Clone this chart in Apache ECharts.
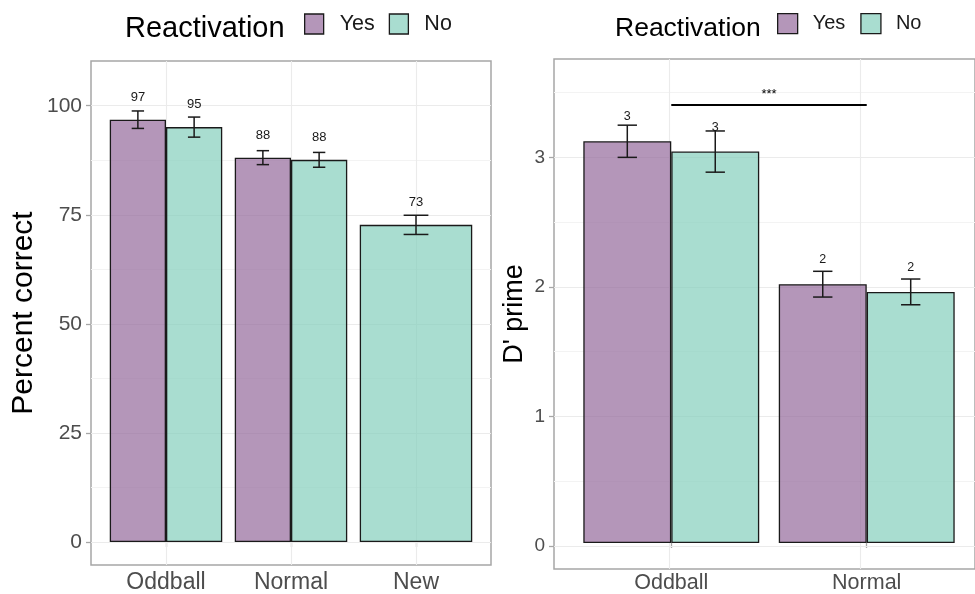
<!DOCTYPE html>
<html>
<head>
<meta charset="utf-8">
<script src="https://cdn.jsdelivr.net/npm/echarts@6/dist/echarts.min.js"></script>
<style>
html,body{margin:0;padding:0;background:#fff;}
#chart{width:975px;height:594px;}
</style>
</head>
<body>
<div id="chart"></div>
<script>
// ---- data ----
const legendTitle = 'Reactivation';
const seriesNames = ['Yes', 'No'];

const categoriesLeft = ['Oddball', 'Normal', 'New'];
const pctYes   = [96.8, 88.1, null];
const pctYesSE = [2.0, 1.6, null];
const pctNo    = [95.1, 87.6, 72.7];
const pctNoSE  = [2.3, 1.7, 2.2];
const leftTicks = [0, 25, 50, 75, 100];
const leftMinor = [12.5, 37.5, 62.5, 87.5];
const leftYName = 'Percent correct';

const categoriesRight = ['Oddball', 'Normal'];
const dYes   = [3.12, 2.01];
const dYesSE = [0.125, 0.10];
const dNo    = [3.04, 1.95];
const dNoSE  = [0.16, 0.10];
const rightTicks = [0, 1, 2, 3];
const rightMinor = [0.5, 1.5, 2.5, 3.5];
const rightYName = "D' prime";
const sigLabel = '***';
const sigFrom = 'Oddball', sigTo = 'Normal', sigY = 3.40;

// ---- styling / layout ----
const FONT = 'Liberation Sans, Arial, sans-serif';
const colYes = 'rgba(148,106,155,0.7)';
const colNo = 'rgba(132,206,188,0.7)';
const barBorder = {borderColor: '#1a1a1a', borderWidth: 1.3};
const gridMajor = '#ebebeb', gridMinor = '#f3f3f3';
const EXP = 0.6; // ggplot discrete expansion (in category units)

const frameL = {left: 91, top: 61, width: 400, height: 504};
const frameR = {left: 554, top: 59, width: 430, height: 510};
function dataGrid(fr, n){
  const unit = fr.width / (n - 1 + 2 * EXP);
  return {left: fr.left + (EXP - 0.5) * unit, top: fr.top, width: n * unit, height: fr.height, show: false};
}

function dash(v){ return (v === null || v === undefined) ? '-' : v; }

function gridLines(majors, minors, n){
  const d = [];
  majors.forEach(v => d.push({yAxis: v, lineStyle: {color: gridMajor, width: 1.1, type: 'solid'}}));
  minors.forEach(v => d.push({yAxis: v, lineStyle: {color: gridMinor, width: 1, type: 'solid'}}));
  for (let i = 1; i <= n; i++) d.push({xAxis: i, lineStyle: {color: gridMajor, width: 1.1, type: 'solid'}});
  return {silent: true, symbol: 'none', z: 1, label: {show: false}, data: d, animation: false};
}

function errRender(params, api){
  const idx = api.value(0), m = api.value(1), se = api.value(2);
  const off = api.value(3), capFrac = api.value(4);
  const band = api.size([1, 0])[0];
  const c = api.coord([idx, m]);
  const x = c[0] + off * band;
  const yt = api.coord([idx, m + se])[1];
  const yb = api.coord([idx, m - se])[1];
  const h = capFrac * band;
  const st = {stroke: '#1a1a1a', lineWidth: 1.5};
  return {type: 'group', children: [
    {type: 'line', shape: {x1: x, y1: yt, x2: x, y2: yb}, style: st},
    {type: 'line', shape: {x1: x - h, y1: yt, x2: x + h, y2: yt}, style: st},
    {type: 'line', shape: {x1: x - h, y1: yb, x2: x + h, y2: yb}, style: st}
  ]};
}

const errLeft = [];
categoriesLeft.forEach((c, i) => {
  const hasYes = pctYes[i] !== null;
  if (hasYes) errLeft.push([i, pctYes[i], pctYesSE[i], -0.225, 0.45 * 0.11]);
  if (pctNo[i] !== null) errLeft.push([i, pctNo[i], pctNoSE[i], hasYes ? 0.225 : 0, (hasYes ? 0.45 : 0.9) * 0.11]);
});
const errRight = [];
categoriesRight.forEach((c, i) => {
  errRight.push([i, dYes[i], dYesSE[i], -0.225, 0.45 * 0.11]);
  errRight.push([i, dNo[i], dNoSE[i], 0.225, 0.45 * 0.11]);
});

const labelL = {show: true, position: 'top', distance: 16, fontSize: 13, color: '#1a1a1a', fontFamily: FONT,
  formatter: p => Math.round(p.value)};
const labelR = {show: true, position: 'top', distance: 18, fontSize: 12.5, color: '#1a1a1a', fontFamily: FONT,
  formatter: p => Math.round(p.value)};

const tickStyle = {color: '#a6a6a6', width: 1.3};
const frameStyle = {show: true, borderColor: '#a6a6a6', borderWidth: 1.5, backgroundColor: 'transparent'};

const chart = echarts.init(document.getElementById('chart'), null, {renderer: 'canvas'});
chart.setOption({
  animation: false,
  backgroundColor: '#fff',
  title: [
    {text: legendTitle, left: 125, top: 14, padding: 0, textStyle: {fontSize: 29, fontWeight: 'normal', color: '#000', fontFamily: FONT}},
    {text: legendTitle, left: 615, top: 15, padding: 0, textStyle: {fontSize: 26.5, fontWeight: 'normal', color: '#000', fontFamily: FONT}}
  ],
  legend: [
    {data: seriesNames, left: 304, top: 13, padding: 0, itemWidth: 19, itemHeight: 20, itemGap: 14, icon: 'rect',
     selectedMode: false,
     itemStyle: {borderColor: '#1a1a1a', borderWidth: 1.3},
     textStyle: {fontSize: 21.5, color: '#1a1a1a', fontFamily: FONT, padding: [0, 0, 0, 11]}},
    {data: seriesNames, left: 777, top: 13, padding: 0, itemWidth: 20, itemHeight: 20, itemGap: 15, icon: 'rect',
     selectedMode: false,
     itemStyle: {borderColor: '#1a1a1a', borderWidth: 1.3},
     textStyle: {fontSize: 20, color: '#1a1a1a', fontFamily: FONT, padding: [0, 0, 0, 10]}}
  ],
  grid: [
    Object.assign({}, frameL, frameStyle),
    dataGrid(frameL, categoriesLeft.length),
    Object.assign({}, frameR, frameStyle),
    dataGrid(frameR, categoriesRight.length)
  ],
  xAxis: [
    {type: 'category', gridIndex: 1, data: categoriesLeft,
     axisLine: {show: false}, axisTick: {show: true, alignWithLabel: true, length: 5, lineStyle: tickStyle},
     axisLabel: {fontSize: 23, color: '#4d4d4d', margin: 6, fontFamily: FONT}, splitLine: {show: false}},
    {type: 'category', gridIndex: 1, data: categoriesLeft, show: false},
    {type: 'value', gridIndex: 0, min: 1 - EXP, max: categoriesLeft.length + EXP, show: false, splitLine: {show: false}},
    {type: 'category', gridIndex: 3, data: categoriesRight,
     axisLine: {show: false}, axisTick: {show: true, alignWithLabel: true, length: 5, lineStyle: tickStyle},
     axisLabel: {fontSize: 21.5, color: '#4d4d4d', margin: 6, fontFamily: FONT}, splitLine: {show: false}},
    {type: 'value', gridIndex: 2, min: 1 - EXP, max: categoriesRight.length + EXP, show: false, splitLine: {show: false}}
  ],
  yAxis: [
    {type: 'value', gridIndex: 0, min: -5.25, max: 110.25,
     axisLine: {show: false},
     axisTick: {show: true, length: 5, customValues: leftTicks, lineStyle: tickStyle},
     axisLabel: {fontSize: 21, color: '#4d4d4d', margin: 9, fontFamily: FONT, customValues: leftTicks},
     splitLine: {show: false},
     name: leftYName, nameLocation: 'middle', nameGap: 52,
     nameTextStyle: {fontSize: 30, color: '#000', fontFamily: FONT}},
    {type: 'value', gridIndex: 1, min: -5.25, max: 110.25, show: false, splitLine: {show: false}},
    {type: 'value', gridIndex: 2, min: -0.179, max: 3.759,
     axisLine: {show: false},
     axisTick: {show: true, length: 5, customValues: rightTicks, lineStyle: tickStyle},
     axisLabel: {fontSize: 19, color: '#4d4d4d', margin: 9, fontFamily: FONT, customValues: rightTicks},
     splitLine: {show: false},
     name: rightYName, nameLocation: 'middle', nameGap: 26,
     nameTextStyle: {fontSize: 27, color: '#000', fontFamily: FONT}},
    {type: 'value', gridIndex: 3, min: -0.179, max: 3.759, show: false, splitLine: {show: false}}
  ],
  series: [
    {type: 'line', xAxisIndex: 2, yAxisIndex: 0, data: [], silent: true,
     markLine: gridLines(leftTicks, leftMinor, categoriesLeft.length)},
    {type: 'line', xAxisIndex: 4, yAxisIndex: 2, data: [], silent: true,
     markLine: gridLines(rightTicks, rightMinor, categoriesRight.length)},

    {name: 'Yes', type: 'bar', xAxisIndex: 0, yAxisIndex: 1, z: 2,
     data: pctYes.map(dash), barGap: '0%', barCategoryGap: '10%',
     itemStyle: Object.assign({color: colYes}, barBorder), label: labelL},
    {name: 'No', type: 'bar', xAxisIndex: 0, yAxisIndex: 1, z: 2,
     data: pctNo.map((v, i) => pctYes[i] !== null ? dash(v) : '-'), barGap: '0%', barCategoryGap: '10%',
     itemStyle: Object.assign({color: colNo}, barBorder), label: labelL},
    {name: 'No', type: 'bar', xAxisIndex: 1, yAxisIndex: 1, z: 2,
     data: pctNo.map((v, i) => pctYes[i] === null ? dash(v) : '-'), barWidth: '90%',
     itemStyle: Object.assign({color: colNo}, barBorder), label: labelL},
    {type: 'custom', xAxisIndex: 0, yAxisIndex: 1, z: 3, renderItem: errRender, data: errLeft,
     encode: {x: 0, y: 1}, silent: true},

    {name: 'Yes', type: 'bar', xAxisIndex: 3, yAxisIndex: 3, z: 2,
     data: dYes, barGap: '0%', barCategoryGap: '10%',
     itemStyle: Object.assign({color: colYes}, barBorder), label: labelR},
    {name: 'No', type: 'bar', xAxisIndex: 3, yAxisIndex: 3, z: 2,
     data: dNo, barGap: '0%', barCategoryGap: '10%',
     itemStyle: Object.assign({color: colNo}, barBorder), label: labelR},
    {type: 'custom', xAxisIndex: 3, yAxisIndex: 3, z: 3, renderItem: errRender, data: errRight,
     encode: {x: 0, y: 1}, silent: true,
     markLine: {silent: true, symbol: 'none', z: 5, animation: false,
       lineStyle: {color: '#000', width: 2, type: 'solid'},
       label: {show: true, position: 'middle', formatter: sigLabel, fontSize: 13, color: '#000', distance: 4, fontFamily: FONT},
       data: [[{coord: [sigFrom, sigY]}, {coord: [sigTo, sigY]}]]}}
  ]
});
</script>
</body>
</html>
